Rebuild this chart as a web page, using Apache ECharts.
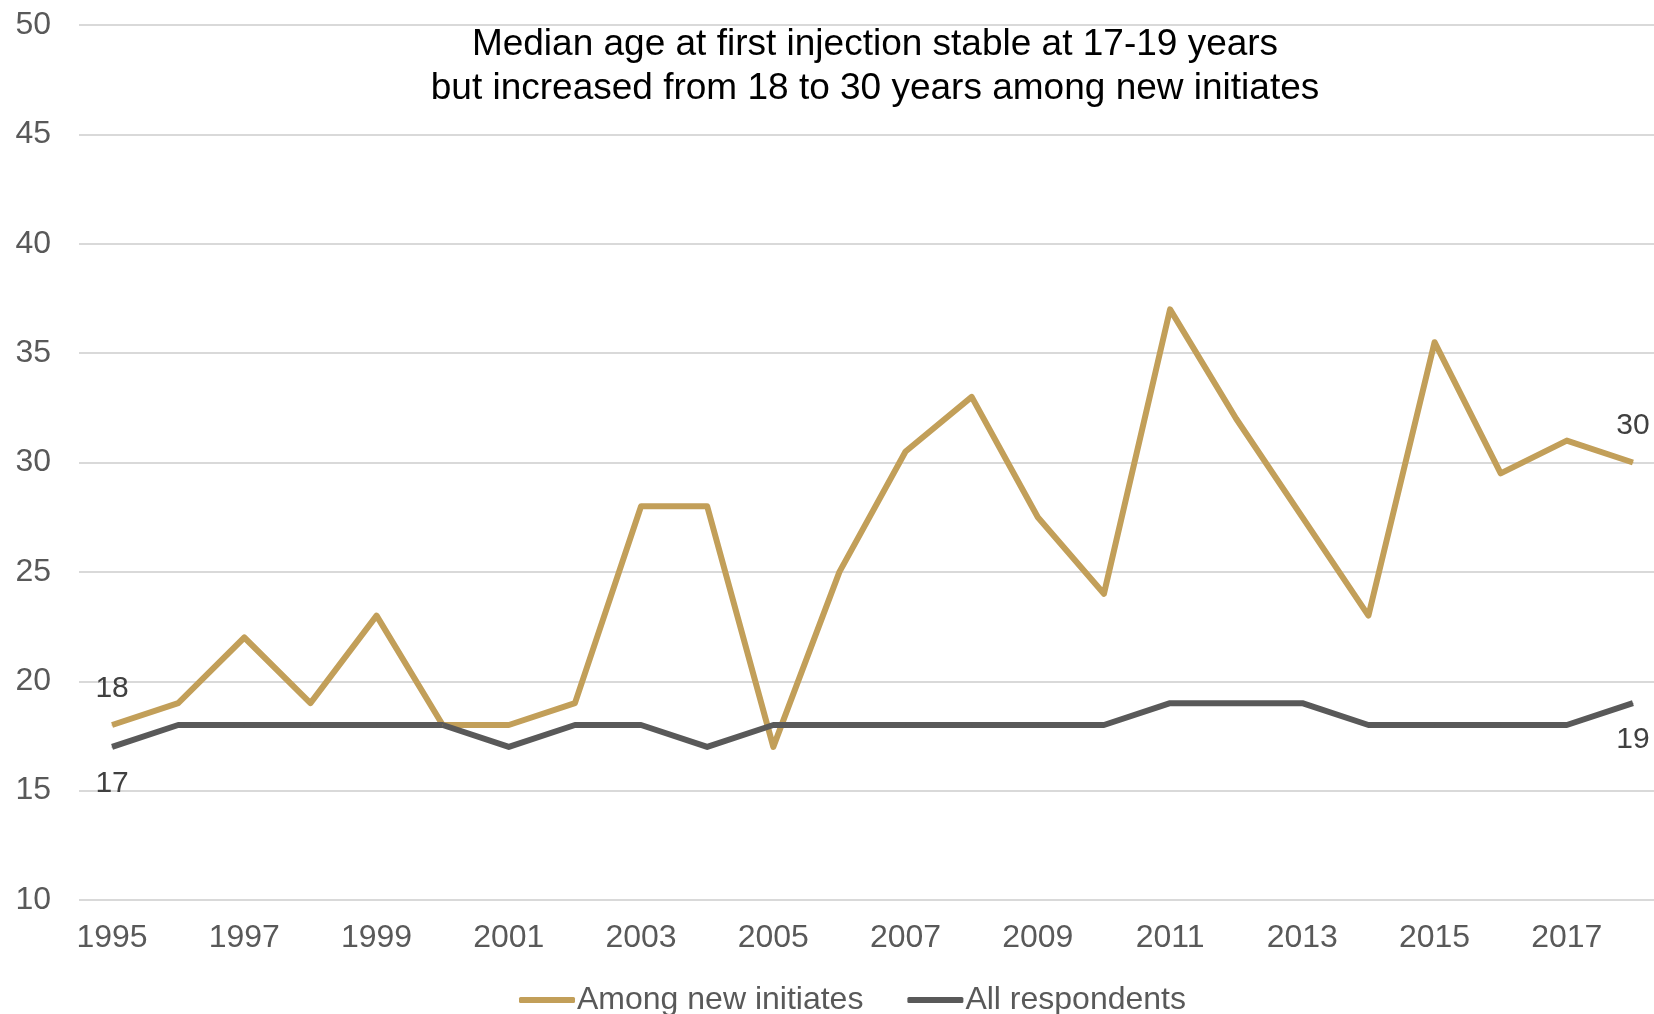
<!DOCTYPE html>
<html>
<head>
<meta charset="utf-8">
<script src="https://cdn.jsdelivr.net/npm/echarts@6/dist/echarts.min.js"></script>
<style>
	html, body { margin: 0; padding: 0; background: #fff; overflow: hidden; }
	/* plot area runs a little past the right edge of the window, like the original */
	#chart { width: 1666px; height: 1014px; }
</style>
</head>
<body>
<div id="chart"></div>
<script>
	var years = ['1995', '1996', '1997', '1998', '1999', '2000', '2001', '2002', '2003', '2004', '2005', '2006',
		'2007', '2008', '2009', '2010', '2011', '2012', '2013', '2014', '2015', '2016', '2017', '2018'];
	var newInitiates = [18, 19, 22, 19, 23, 18, 18, 19, 28, 28, 17, 25,
		30.5, 33, 27.5, 24, 37, 32, 27.5, 23, 35.5, 29.5, 31, 30];
	var allRespondents = [17, 18, 18, 18, 18, 18, 17, 18, 18, 17, 18, 18,
		18, 18, 18, 18, 19, 19, 19, 18, 18, 18, 18, 19];
	var yTicks = { min: 10, max: 50, interval: 5 };
	var titleLines = ['Median age at first injection stable at 17-19 years',
		'but increased from 18 to 30 years among new initiates'];
	var seriesNames = ['Among new initiates', 'All respondents'];

	var font = 'Liberation Sans, Arial, sans-serif';

	// only first and last point get a value label
	function withEndLabels(arr, pos) {
		return arr.map(function (v, i) {
			var show = (i === 0 || i === arr.length - 1);
			return {
				value: v,
				label: {
					show: show,
					position: pos,
					distance: 21,
					fontSize: 30,
					fontFamily: font,
					color: '#404040'
				}
			};
		});
	}

	var chart = echarts.init(document.getElementById('chart'));
	var option = {
		animation: false,
		title: {
			text: titleLines.join('\n'),
			left: 875,
			top: 23,
			padding: 0,
			textAlign: 'center',
			textStyle: {
				fontSize: 37,
				lineHeight: 44,
				fontWeight: 'normal',
				fontFamily: font,
				color: '#000'
			}
		},
		legend: {
			left: 514,
			top: 979,
			itemWidth: 56,
			itemHeight: 6,
			itemGap: 44,
			icon: 'roundRect',
			textStyle: { fontSize: 32, fontFamily: font, color: '#595959', padding: [0, 0, 0, -3] },
			data: seriesNames
		},
		grid: { left: 79, right: 0, top: 25, bottom: 114 },
		xAxis: {
			type: 'category',
			data: years,
			boundaryGap: true,
			axisLine: { show: false },
			axisTick: { show: false },
			axisLabel: {
				interval: 1,
				margin: 22,
				fontSize: 32,
				fontFamily: font,
				color: '#595959'
			}
		},
		yAxis: {
			type: 'value',
			min: yTicks.min,
			max: yTicks.max,
			interval: yTicks.interval,
			axisLine: { show: false },
			axisTick: { show: false },
			axisLabel: { margin: 28, fontSize: 32, fontFamily: font, color: '#595959' },
			splitLine: { lineStyle: { color: '#d9d9d9', width: 2 } }
		},
		series: [{
			name: seriesNames[0],
			type: 'line',
			data: withEndLabels(newInitiates, 'top'),
			symbol: 'circle',
			symbolSize: 1,
			showAllSymbol: true,
			lineStyle: { color: '#c29f59', width: 6, join: 'round' },
			itemStyle: { color: '#c29f59' }
		}, {
			name: seriesNames[1],
			type: 'line',
			data: withEndLabels(allRespondents, 'bottom'),
			symbol: 'circle',
			symbolSize: 1,
			showAllSymbol: true,
			lineStyle: { color: '#595959', width: 6, join: 'round' },
			itemStyle: { color: '#595959' }
		}]
	};
	chart.setOption(option);
</script>
</body>
</html>
